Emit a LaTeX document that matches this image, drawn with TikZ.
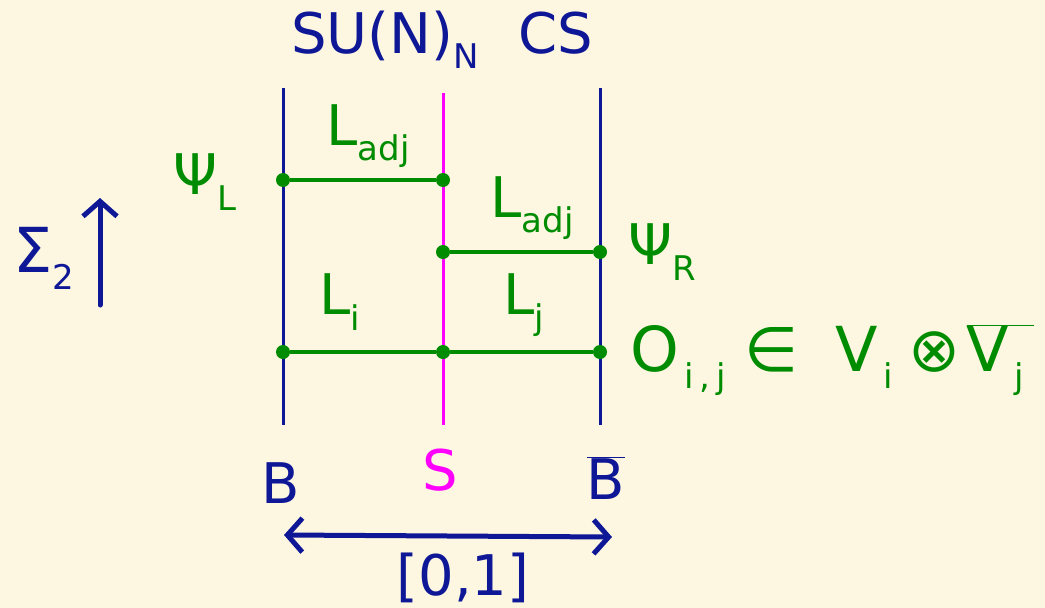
\documentclass[tikz,border=0pt]{standalone}
\usepackage{fontspec}
\setmainfont{DejaVu Sans}
\usetikzlibrary{arrows.meta}
\definecolor{paper}{RGB}{253,246,225}
\definecolor{inkblue}{RGB}{14,24,150}
\definecolor{inkpink}{RGB}{255,0,255}
\definecolor{inkgreen}{RGB}{0,140,0}
\newcommand\lsub[1]{\raisebox{-0.5ex}{\fontsize{34}{36}\selectfont #1}}
\tikzstyle{wall} = [line width=3pt, draw=inkblue]
\tikzstyle{defect} = [line width=3pt, draw=inkpink]
\tikzstyle{link} = [line width=4pt, draw=inkgreen]
\tikzstyle{dot} = [circle, fill=inkgreen, inner sep=0pt, minimum size=14pt]
\tikzstyle{glabel} = [text=inkgreen, inner sep=0pt, font=\fontsize{56}{58}\selectfont]
\tikzstyle{blabel} = [text=inkblue, inner sep=0pt, font=\fontsize{56}{58}\selectfont]
\tikzstyle{arrow} = [line width=5pt, draw=inkblue, line cap=round, -{Straight Barb[length=15pt,width=34pt,line width=5pt]}]

\begin{document}
\begin{tikzpicture}[x=1pt, y=-1pt]
\fill[paper] (0,0) rectangle (1045,608);
\useasboundingbox (0,0) rectangle (1045,608);

% the three lines
\coordinate (Btop) at (283,88);
\coordinate (Bbot) at (283,425);
\coordinate (Stop) at (443,93);
\coordinate (Sbot) at (443,425);
\coordinate (Bbtop) at (600,88);
\coordinate (Bbbot) at (600,425);
\draw [wall](Btop) -- (Bbot);
\draw [defect](Stop) -- (Sbot);
\draw [wall](Bbtop) -- (Bbbot);

% junctions
\node (psiL) [dot] at (283,180) {};
\node (sUp) [dot] at (443,180) {};
\node (sMid) [dot] at (443,252) {};
\node (psiR) [dot] at (600,252) {};
\node (opL) [dot] at (283,352) {};
\node (opS) [dot] at (443,352) {};
\node (opR) [dot] at (600,352) {};
\draw [link](psiL) -- (sUp);
\draw [link](sMid) -- (psiR);
\draw [link](opL) -- (opS);
\draw [link](opS) -- (opR);

% labels
\node (title) [blabel] at (442,40) {SU(N)\lsub{N}\hspace{0.7em}CS};
\node (adjL) [glabel] at (368,136) {L\lsub{adj}};
\node (adjR) [glabel] at (532,208) {L\lsub{adj}};
\node (Li) [glabel] at (340,302) {L\lsub{i}};
\node (Lj) [glabel] at (524,305) {L\lsub{j}};
\node (psiLtxt) [glabel] at (205,182) {Ψ\lsub{L}};
\node (psiRtxt) [glabel] at (662,252) {Ψ\lsub{R}};
\node (optxt) [glabel, anchor=west, font=\fontsize{62}{64}\selectfont] at (630,360) {O\lsub{\,i\,,\,j}\hspace{0.3em}∈\hspace{0.6em}V\lsub{\,i}\hspace{0.25em}⊗\hspace{0.1em}$\overline{\hbox{V\lsub{\,j}\hspace{0.15em}}}$};
\node (Btxt) [blabel] at (281,483) {B};
\node (Stxt) [glabel, text=inkpink] at (440,470) {S};
\node (Bbtxt) [blabel] at (606,478) {$\overline{\hbox{B}}$};
\node (sigma) [blabel, font=\fontsize{62}{64}\selectfont] at (44,258) {Σ\lsub{2}};
\node (interval) [blabel] at (463,578) {[0,1]};

% arrows
\coordinate (sigTail) at (100,305);
\coordinate (sigHead) at (100,198);
\draw [arrow](sigTail) -- (sigHead);
\coordinate (intL) at (284,535);
\coordinate (intR) at (612,537);
\draw [arrow, {Straight Barb[length=15pt,width=34pt,line width=5pt]}-{Straight Barb[length=15pt,width=34pt,line width=5pt]}](intL) -- (intR);
\end{tikzpicture}
\end{document}
